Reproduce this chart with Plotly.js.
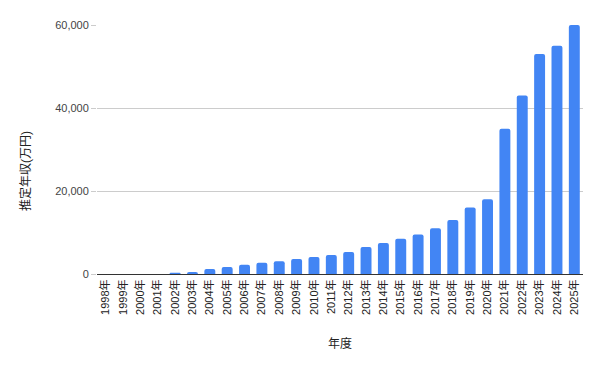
<!DOCTYPE html>
<html><head><meta charset="utf-8">
<script src="https://cdn.plot.ly/plotly-3.0.1.min.js"></script>
<style>html,body{margin:0;padding:0;background:#fff}</style>
</head><body>
<div id="chart" style="width:601px;height:371px"></div>
<script>
const years = ["1998年","1999年","2000年","2001年","2002年","2003年","2004年","2005年","2006年","2007年","2008年","2009年","2010年","2011年","2012年","2013年","2014年","2015年","2016年","2017年","2018年","2019年","2020年","2021年","2022年","2023年","2024年","2025年"];
const income = [0,0,0,0,300,500,1200,1700,2200,2700,3100,3600,4100,4600,5300,6500,7500,8500,9500,11000,13000,16000,18000,35000,43000,53000,55000,60000];
const xTitle = "年度";
const yTitle = "推定年収(万円)";
const yTicks = [0,20000,40000,60000];

const font = "Arial, 'Liberation Sans', 'Noto Sans CJK JP', sans-serif";
Plotly.newPlot("chart", [{
  type: "bar",
  x: years,
  y: income,
  marker: {color: "#4285F4", cornerradius: 2},
  hoverinfo: "none"
}], {
  width: 601, height: 371,
  margin: {l: 97, r: 18, t: 25, b: 97},
  paper_bgcolor: "#fff", plot_bgcolor: "#fff",
  bargap: 0.37,
  showlegend: false,
  font: {family: font, size: 11, color: "#222"},
  xaxis: {
    type: "category",
    tickangle: -90,
    ticks: "",
    showline: true, linecolor: "#333", linewidth: 1,
    tickfont: {size: 11, color: "#222"},
    automargin: false,
    title: {text: xTitle, font: {size: 12, color: "#222"}, standoff: 25}
  },
  yaxis: {
    range: [0, 60000],
    tickvals: yTicks,
    tickformat: ",d",
    showgrid: true, gridcolor: "#cccccc", gridwidth: 1,
    zeroline: false,
    ticks: "outside", ticklen: 5, tickcolor: "#cccccc",
    tickfont: {size: 11, color: "#444"},
    automargin: false
  },
  annotations: [{
    text: yTitle,
    xref: "paper", yref: "paper",
    x: (25 - 97) / 486, y: (274 - 171) / 249,
    xanchor: "center", yanchor: "middle",
    textangle: -90, showarrow: false,
    font: {size: 12, color: "#222"}
  }]
}, {staticPlot: true});
</script>
</body></html>
